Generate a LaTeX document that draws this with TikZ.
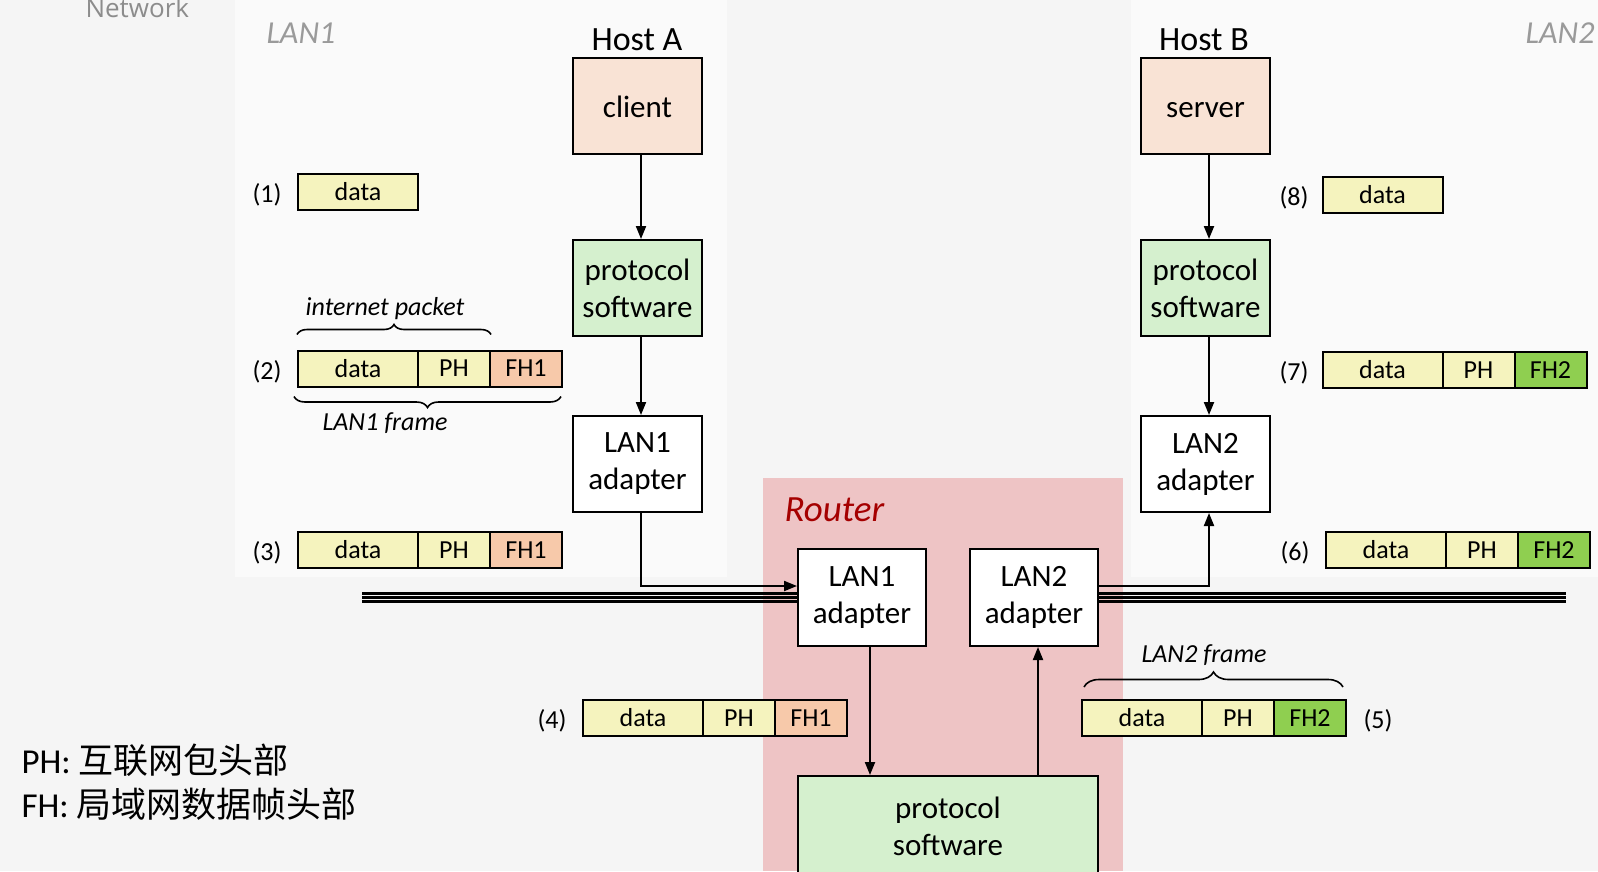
\documentclass[tikz,border=0pt]{standalone}
\usepackage{fontspec}
\setmainfont{Carlito}
\newfontfamily\cjk{Noto Sans CJK SC}
\newfontfamily\netfont{Open Sans}
\usetikzlibrary{arrows.meta,decorations.pathreplacing}
\definecolor{bgc}{HTML}{F5F5F5}
\definecolor{panelc}{HTML}{FAFAFA}
\definecolor{hostc}{HTML}{F9E3D5}
\definecolor{protoc}{HTML}{D5F0CE}
\definecolor{datac}{HTML}{F5F3BE}
\definecolor{fhonec}{HTML}{F7C9AA}
\definecolor{fhtwoc}{HTML}{8FCF50}
\definecolor{routerc}{HTML}{EEC4C5}
\definecolor{routerred}{HTML}{A50000}
\definecolor{labelgray}{HTML}{9A9A9A}
\definecolor{netgray}{HTML}{8C8C8C}
\newcommand{\lowstrut}{\rule[-5pt]{0pt}{32pt}}
\begin{document}
\begin{tikzpicture}[x=1pt,y=-1pt,
  box/.style={draw=black,line width=2pt,minimum width=129pt,minimum height=96pt,align=center,inner sep=0pt,font=\fontsize{31}{37}\selectfont},
  cell/.style={draw=black,line width=2pt,minimum height=36pt,inner sep=0pt,font=\fontsize{26}{30}\selectfont,fill=datac},
  dcell/.style={cell,minimum width=120pt},
  hcell/.style={cell,minimum width=72pt},
  lab/.style={font=\fontsize{26}{30}\selectfont},
  glabel/.style={text=labelgray,font=\fontsize{32}{38}\selectfont\itshape},
  hostlbl/.style={font=\fontsize{34}{40}\selectfont,anchor=base},
  itlbl/.style={font=\fontsize{26}{30}\selectfont\itshape,anchor=base},
  arr/.style={line width=2pt,-{Triangle[length=13pt,width=10pt]}},
  bus/.style={line width=2.5pt},
  brc/.style={line width=1.6pt,decorate},
  legend/.style={font=\fontsize{35}{42}\selectfont,anchor=base west}
]
\useasboundingbox (0,0) rectangle (1598,871);
\fill[bgc] (0,0) rectangle (1598,871);
\fill[panelc] (235,0) rectangle (727,577);
\fill[panelc] (1131,0) rectangle (1598,577);
\fill[routerc] (763,478) rectangle (1123,871);

% labels
\node[anchor=base west,text=netgray,font=\netfont\fontsize{26}{30}\selectfont] (net) at (82,17) {Network};
\node[glabel,anchor=base west] (lanone) at (263,43) {LAN1};
\node[glabel,anchor=base east] (lantwo) at (1598,43) {LAN2};
\node[hostlbl] (hostA) at (637,50) {Host A};
\node[hostlbl] (hostB) at (1204,50) {Host B};
\node[anchor=base west,text=routerred,font=\fontsize{37}{44}\selectfont\itshape] (router) at (781,521) {Router};

% host A
\node[box,fill=hostc] (client) at (637.5,106) {\lowstrut client};
\node[box,fill=protoc] (protoA) at (637.5,288) {protocol\\software};
\node[box,fill=white] (lanA) at (637.5,464) {LAN1\\adapter};
% host B
\node[box,fill=hostc] (server) at (1205.5,106) {\lowstrut server};
\node[box,fill=protoc] (protoB) at (1205.5,288) {protocol\\software};
\node[box,fill=white] (lanB) at (1205.5,464) {LAN2\\adapter};
% router
\node[box,fill=white,minimum width=128pt,minimum height=97pt] (rlan1) at (862,597.5) {LAN1\\adapter};
\node[box,fill=white,minimum width=128pt,minimum height=97pt] (rlan2) at (1034,597.5) {LAN2\\adapter};
\node[box,fill=protoc,minimum width=300pt,minimum height=100pt] (rproto) at (948,826) {protocol\\software};

% packets
\node[lab] (l1) at (267,195) {(1)};
\node[dcell] (d1) at (358,192) {data};

\node[lab] (l2) at (267,371.5) {(2)};
\node[dcell] (d2) at (358,368.5) {data};
\node[hcell] (p2) at (454,368.5) {PH};
\node[hcell,fill=fhonec] (f2) at (526,368.5) {FH1};

\node[lab] (l3) at (267,553) {(3)};
\node[dcell] (d3) at (358,550) {data};
\node[hcell] (p3) at (454,550) {PH};
\node[hcell,fill=fhonec] (f3) at (526,550) {FH1};

\node[lab] (l4) at (552,721) {(4)};
\node[dcell] (d4) at (643,718) {data};
\node[hcell] (p4) at (739,718) {PH};
\node[hcell,fill=fhonec] (f4) at (811,718) {FH1};

\node[lab] (l5) at (1378,721) {(5)};
\node[dcell] (d5) at (1142,718) {data};
\node[hcell] (p5) at (1238,718) {PH};
\node[hcell,fill=fhtwoc] (f5) at (1310,718) {FH2};

\node[lab] (l6) at (1295,553) {(6)};
\node[dcell] (d6) at (1386,550) {data};
\node[hcell] (p6) at (1482,550) {PH};
\node[hcell,fill=fhtwoc] (f6) at (1554,550) {FH2};

\node[lab] (l7) at (1294,373) {(7)};
\node[dcell] (d7) at (1382.5,370) {data};
\node[hcell] (p7) at (1478.5,370) {PH};
\node[hcell,fill=fhtwoc] (f7) at (1550.5,370) {FH2};

\node[lab] (l8) at (1294,198) {(8)};
\node[dcell] (d8) at (1382.5,195) {data};

% braces
\draw[brc,decoration={brace,amplitude=10pt}] ([yshift=15]d2.north west) -- ([yshift=15]p2.north east);
\node[itlbl] (ipk) at (385,315) {internet packet};
\draw[brc,decoration={brace,amplitude=11pt}] ([yshift=-9,xshift=-2]f2.south east) -- ([yshift=-9,xshift=-3]d2.south west);
\node[itlbl] (lf1) at (385,430) {LAN1 frame};
\draw[brc,decoration={brace,amplitude=15pt}] ([yshift=12,xshift=3]d5.north west) -- ([yshift=12,xshift=-4]f5.north east);
\node[itlbl] (lf2) at (1204,662) {LAN2 frame};

% bus
\coordinate (busL) at (362,597.5);
\coordinate (busR) at (1566,597.5);
\foreach \s in {4,0,-4} {
  \draw[bus] ([yshift=\s]busL) -- ([yshift=\s]rlan1.west);
  \draw[bus] ([yshift=\s]rlan2.east) -- ([yshift=\s]busR);
}

% arrows
\draw[arr] ([xshift=3.5]client.south) -- ([xshift=3.5]protoA.north);
\draw[arr] ([xshift=3.5]protoA.south) -- ([xshift=3.5]lanA.north);
\draw[arr] ([xshift=3.5]server.south) -- ([xshift=3.5]protoB.north);
\draw[arr] ([xshift=3.5]protoB.south) -- ([xshift=3.5]lanB.north);
\draw[arr] ([xshift=3.5]lanA.south) |- ([yshift=11.5]rlan1.west);
\draw[arr] ([yshift=11.5]rlan2.east) -| ([xshift=3.5]lanB.south);
\coordinate (rd) at ([xshift=8]rlan1.south);
\coordinate (ru) at ([xshift=4]rlan2.south);
\draw[arr] (rd) -- (rd |- rproto.north);
\draw[arr] (ru |- rproto.north) -- (ru);

% legend
\node[legend] (leg1) at (18,773) {PH: {\cjk 互联网包头部}};
\node[legend] (leg2) at (18,817) {FH: {\cjk 局域网数据帧头部}};
\end{tikzpicture}
\end{document}
